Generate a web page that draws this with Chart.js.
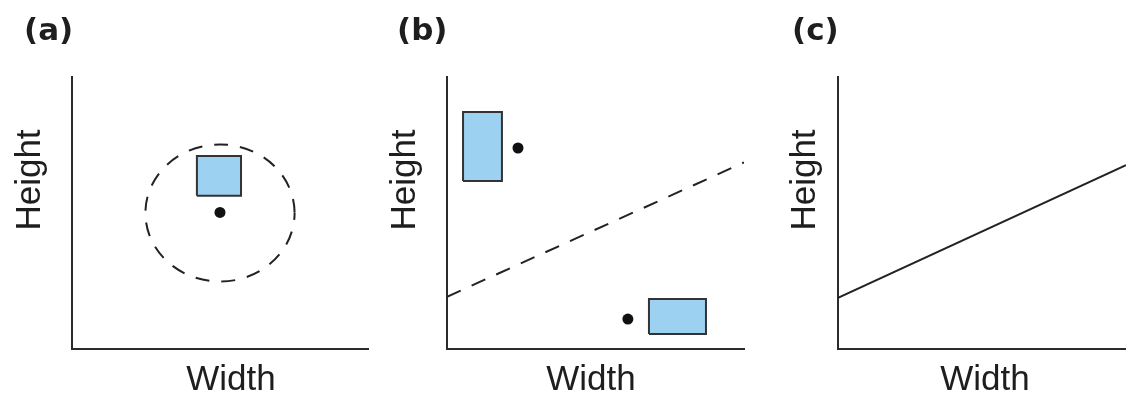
<!DOCTYPE html>
<html><head><meta charset="utf-8">
<script src="https://cdn.jsdelivr.net/npm/chart.js@4/dist/chart.umd.min.js"></script>
<style>
html,body{margin:0;padding:0;background:#fff;}
#wrap{position:relative;width:1126px;height:393px;overflow:hidden;background:#fff;}
.panel{position:absolute;top:0;height:393px;}
</style></head><body>
<div id="wrap">
  <div class="panel" style="left:0;width:375px"><canvas id="ca"></canvas></div>
  <div class="panel" style="left:375px;width:375px"><canvas id="cb"></canvas></div>
  <div class="panel" style="left:750px;width:376px"><canvas id="cc"></canvas></div>
</div>
<script>
// ---- text ----
const panelLetters = ['(a)', '(b)', '(c)'];
const xAxisLabel = 'Width';
const yAxisLabel = 'Height';

// ---- panel (a) ----
const aBoxWidth = [42.2, 57.1];
const aBoxHeight = [56.3, 71.0];
const aPoints = [{x: 50, y: 50.2}];
const aCircleCenter = {x: 50, y: 50};
const aCircleRadius = 25.2;

// ---- panel (b) ----
const bBox1Width = [5.4, 18.5];
const bBox1Height = [61.8, 87.1];
const bBox2Width = [68.0, 87.2];
const bBox2Height = [5.5, 18.4];
const bPoints = [{x: 23.9, y: 73.9}, {x: 60.9, y: 11.0}];
const bBoundaryX = [0, 100];
const bBoundaryY = [19.2, 68.6];

// ---- panel (c) ----
const cLineX = [0, 100];
const cLineY = [18.8, 67.6];

// ---- helpers ----
function boxPolygon(w, h) {
  return [
    {x: w[0], y: h[0]}, {x: w[1], y: h[0]}, {x: w[1], y: h[1]},
    {x: w[0], y: h[1]}, {x: w[0], y: h[0]}
  ];
}
function linePoints(xs, ys) { return xs.map((x, i) => ({x, y: ys[i]})); }

const AXIS = '#2b2b2b';
const BLUE = '#9dd1f1';

function boxDataset(w, h) {
  return {type: 'line', data: boxPolygon(w, h), fill: 'shape', backgroundColor: BLUE,
    borderColor: '#333', borderWidth: 2, pointRadius: 0, tension: 0, borderJoinStyle: 'miter'};
}
function dotDataset(pts) {
  return {type: 'line', data: pts, showLine: false, pointRadius: 5.5, pointBorderWidth: 0,
    pointBackgroundColor: '#111', pointBorderColor: '#111'};
}

const panelText = {
  id: 'panelText',
  afterDraw(chart, args, o) {
    const ctx = chart.ctx;
    ctx.save();
    ctx.fillStyle = '#1e1e1e';
    ctx.textBaseline = 'alphabetic';
    ctx.font = 'bold 31px "DejaVu Sans"';
    ctx.textAlign = 'left';
    ctx.fillText(o.letter, o.letterX, 40);
    ctx.font = '35px "Liberation Sans"';
    ctx.textAlign = 'center';
    ctx.fillText(xAxisLabel, o.xLabelX, 390);
    ctx.translate(o.yLabelX, 180);
    ctx.rotate(-Math.PI / 2);
    ctx.fillText(yAxisLabel, 0, 0);
    ctx.restore();
  }
};

const dashedCircle = {
  id: 'dashedCircle',
  beforeDatasetsDraw(chart, args, o) {
    if (!o.circles) return;
    const {ctx, scales: {x, y}} = chart;
    ctx.save();
    ctx.strokeStyle = '#222';
    ctx.lineWidth = 2;
    ctx.setLineDash([14, 12]);
    ctx.lineDashOffset = 7;
    for (const c of o.circles) {
      const cx = x.getPixelForValue(c.x), cy = y.getPixelForValue(c.y);
      const rx = Math.abs(x.getPixelForValue(c.x + c.r) - cx);
      const ry = Math.abs(y.getPixelForValue(c.y + c.r) - cy);
      ctx.beginPath();
      ctx.ellipse(cx, cy, rx, ry, 0, 0, Math.PI * 2);
      ctx.stroke();
    }
    ctx.restore();
  }
};

function axis() {
  return {type: 'linear', min: 0, max: 100, display: true,
    grid: {display: false, drawTicks: false}, ticks: {display: false},
    border: {display: true, color: AXIS, width: 2}};
}

function makeChart(id, datasets, padding, textOpts, circles) {
  return new Chart(document.getElementById(id), {
    type: 'line',
    data: {datasets},
    options: {
      responsive: true, maintainAspectRatio: false, animation: false, events: [],
      devicePixelRatio: 1,
      layout: {padding},
      scales: {x: axis(), y: axis()},
      plugins: {
        legend: {display: false}, tooltip: {enabled: false},
        panelText: textOpts,
        dashedCircle: {circles}
      }
    },
    plugins: [panelText, dashedCircle]
  });
}

makeChart('ca',
  [boxDataset(aBoxWidth, aBoxHeight), dotDataset(aPoints)],
  {left: 72, top: 77, right: 7, bottom: 44},
  {letter: panelLetters[0], letterX: 24, xLabelX: 231, yLabelX: 40},
  [{x: aCircleCenter.x, y: aCircleCenter.y, r: aCircleRadius}]);

makeChart('cb',
  [boxDataset(bBox1Width, bBox1Height), boxDataset(bBox2Width, bBox2Height), dotDataset(bPoints),
   {type: 'line', data: linePoints(bBoundaryX, bBoundaryY), borderColor: '#222', borderWidth: 2,
    borderDash: [15, 12], pointRadius: 0, fill: false}],
  {left: 72, top: 77, right: 6, bottom: 44},
  {letter: panelLetters[1], letterX: 22, xLabelX: 216, yLabelX: 40},
  null);

makeChart('cc',
  [{type: 'line', data: linePoints(cLineX, cLineY), borderColor: '#222', borderWidth: 2,
    pointRadius: 0, fill: false}],
  {left: 88, top: 77, right: 0, bottom: 44},
  {letter: panelLetters[2], letterX: 42, xLabelX: 235, yLabelX: 65},
  null);
</script>
</body></html>
